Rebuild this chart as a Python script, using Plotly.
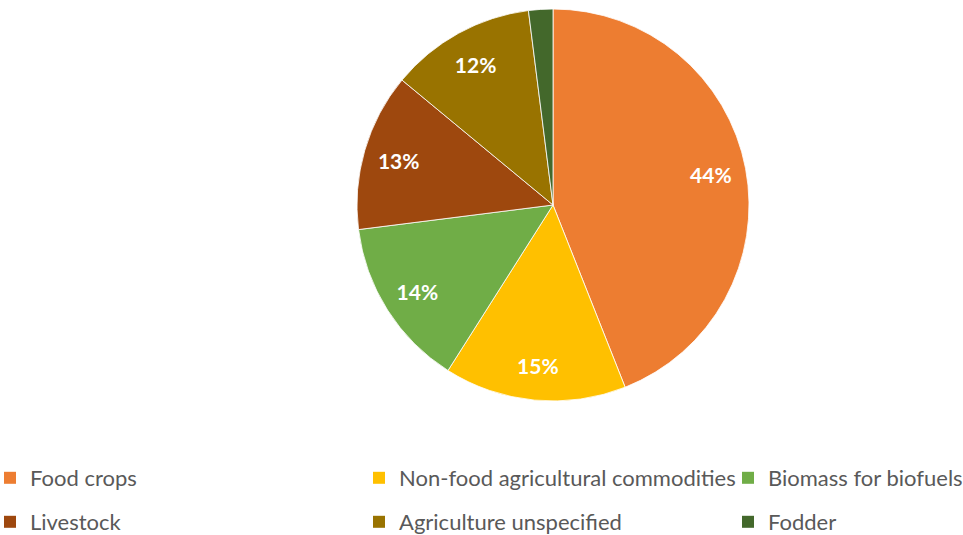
import plotly.graph_objects as go

# ---- data ----
categories = ["Food crops", "Non-food agricultural commodities", "Biomass for biofuels",
              "Livestock", "Agriculture unspecified", "Fodder"]
shares = [44, 15, 14, 13, 12, 2]
colors = ["#ED7D31", "#FFC000", "#70AD47", "#9E480E", "#997300", "#43682B"]
show_label = [True, True, True, True, True, False]

W, H = 963, 535
FONT = "Lato, Carlito, Calibri, sans-serif"

cx, cy, rad = 553, 205, 196
dom_x = [(cx - rad) / W, (cx + rad) / W]
dom_y = [1 - (cy + rad) / H, 1 - (cy - rad) / H]

fig = go.Figure()

# main pie
fig.add_trace(go.Pie(
    labels=categories, values=shares, sort=False, direction="clockwise", rotation=0,
    marker=dict(colors=colors, line=dict(color="white", width=0.8)),
    textinfo="none", showlegend=False, domain=dict(x=dom_x, y=dom_y),
    hoverinfo="label+percent",
))

# transparent ring carrying the percentage labels (places them near the outer edge)
fig.add_trace(go.Pie(
    labels=categories, values=shares, sort=False, direction="clockwise", rotation=0,
    hole=0.64,
    marker=dict(colors=["rgba(0,0,0,0)"] * len(categories), line=dict(width=0)),
    texttemplate=["%{percent:.0%}" if s else "" for s in show_label],
    textposition="inside", insidetextorientation="horizontal",
    textfont=dict(family=FONT, size=21, color="white", weight="bold"),
    showlegend=False, hoverinfo="skip", domain=dict(x=dom_x, y=dom_y),
))

# legend entries laid out in a 3 x 2 grid
col_text_x = [28, 397, 766]
row_y = [478, 522]
legend_layouts = {}
for i, (cat, col) in enumerate(zip(categories, colors)):
    name = "legend" if i == 0 else f"legend{i + 1}"
    r, c = divmod(i, 3)
    fig.add_trace(go.Scatter(
        x=[None], y=[None], mode="markers", name=cat,
        marker=dict(symbol="square", size=12, color=col, line=dict(width=0)),
        legend=name, showlegend=True, hoverinfo="skip",
    ))
    legend_layouts[name] = dict(
        x=(col_text_x[c] - 38) / W, xanchor="left",
        y=1 - row_y[r] / H, yanchor="middle",
        orientation="v", bgcolor="rgba(0,0,0,0)", borderwidth=0,
        font=dict(family=FONT, size=22, color="#595959"),
        itemclick=False, itemdoubleclick=False,
    )

fig.update_layout(
    width=None, height=None, autosize=True,
    margin=dict(l=0, r=0, t=0, b=0, autoexpand=False),
    paper_bgcolor="white", plot_bgcolor="white",
    xaxis=dict(visible=False), yaxis=dict(visible=False),
    **legend_layouts,
)

fig.write_html("out.html", config={"displayModeBar": False},
               default_width="100%", default_height="100%")
